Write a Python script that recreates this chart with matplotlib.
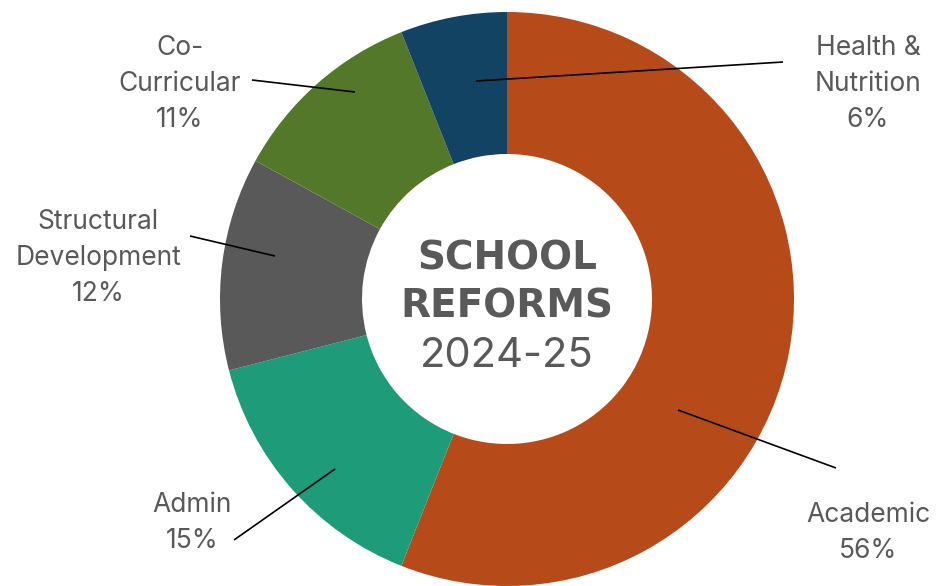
import matplotlib
matplotlib.use('Agg')
from matplotlib import pyplot as plt

# data
categories = ['Academic', 'Admin', 'Structural\nDevelopment', 'Co-\nCurricular', 'Health &\nNutrition']
shares = [56, 15, 12, 11, 6]
colors = ['#B64A18', '#1E9B78', '#595959', '#547829', '#134363']

# label placement in pixel coords (x, y from top), and leader lines
label_pos = [(868, 533), (192, 523), (98, 258), (180, 84), (868, 84)]
leaders = [((678, 410), (836, 468)),
           ((335, 469), (234, 540)),
           ((275, 256), (190, 236)),
           ((355, 92), (252, 80)),
           ((476, 81), (783, 62))]

W, H = 950, 586
plt.rcParams['font.family'] = ['Inter', 'DejaVu Sans']
txt_color = '#595959'

fig = plt.figure(figsize=(W / 100, H / 100), dpi=100)
ax = fig.add_axes([0, 0, 1, 1])

cx, cy, R = 507, H - 299, 287
ax.pie(shares, colors=colors, startangle=90, counterclock=False,
       center=(cx, cy), radius=R, frame=True,
       wedgeprops=dict(width=R - 145, linewidth=0))
ax.set_xlim(0, W)
ax.set_ylim(0, H)
ax.set_aspect('equal')
ax.axis('off')

for (x0, y0), (x1, y1) in leaders:
    ax.plot([x0, x1], [H - y0, H - y1], color='black', lw=1.2, solid_capstyle='butt')

for name, val, (x, y) in zip(categories, shares, label_pos):
    ax.text(x, H - y, f'{name}\n{val}%', ha='center', va='center',
            fontsize=19, color=txt_color, linespacing=1.52)

ax.text(cx, H - 259, 'SCHOOL', ha='center', va='center', fontsize=28,
        fontweight='bold', color=txt_color, family='DejaVu Sans')
ax.text(cx, H - 306, 'REFORMS', ha='center', va='center', fontsize=28,
        fontweight='bold', color=txt_color, family='DejaVu Sans')
ax.text(cx, H - 356, '2024-25', ha='center', va='center', fontsize=30,
        color=txt_color)

fig.savefig('out.png', dpi=100)
plt.close(fig)
